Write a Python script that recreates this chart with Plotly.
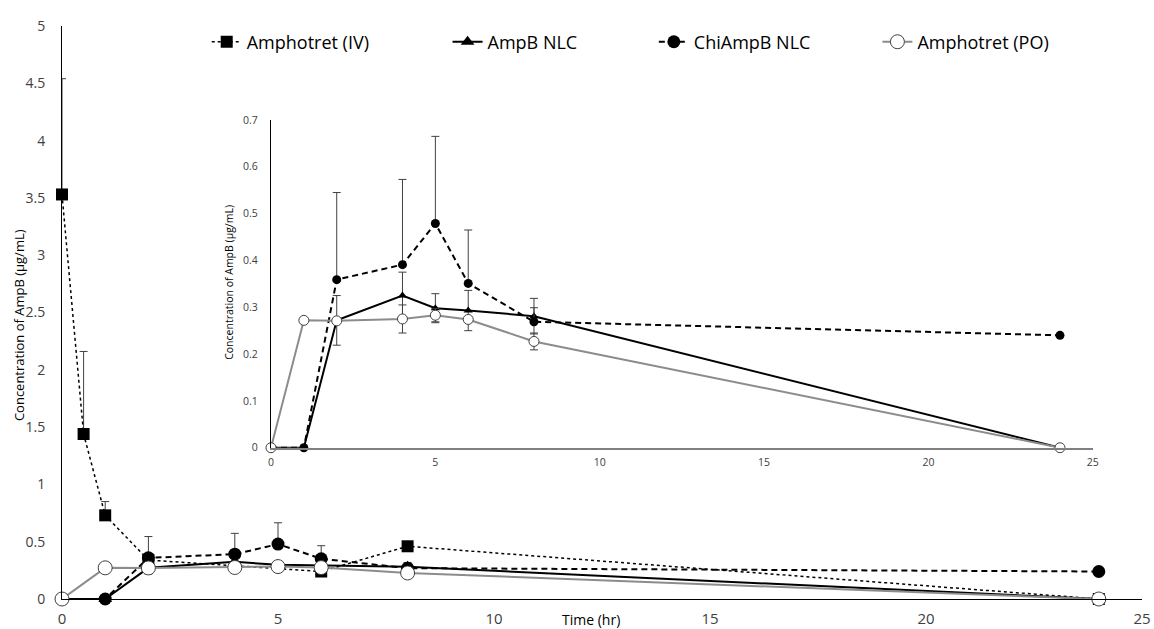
import plotly.graph_objects as go

# ---- data ----
t_iv = [0, 0.5, 1, 2, 6, 8, 24]
iv = [3.53, 1.44, 0.73, 0.34, 0.24, 0.46, 0]
iv_err = [1.01, 0.72, 0.12, 0, 0, 0, 0]

t = [0, 1, 2, 4, 5, 6, 8, 24]
nlc = [0, 0, 0.272, 0.325, 0.298, 0.293, 0.281, 0]
nlc_err = [0, 0, 0.053, 0.050, 0.031, 0.043, 0.038, 0]

chi = [0, 0, 0.359, 0.391, 0.479, 0.351, 0.269, 0.240]
chi_err = [0, 0, 0.186, 0.182, 0.186, 0.114, 0.030, 0]

po = [0, 0.272, 0.271, 0.275, 0.283, 0.274, 0.227, 0]
po_err = [0, 0, 0, 0.030, 0.014, 0, 0.018, 0]

x_ticks = [0, 5, 10, 15, 20, 25]
y_ticks_main = [0, 0.5, 1, 1.5, 2, 2.5, 3, 3.5, 4, 4.5, 5]
y_ticks_inset = [0, 0.1, 0.2, 0.3, 0.4, 0.5, 0.6, 0.7]

names = ["Amphotret (IV)", "AmpB NLC", "ChiAmpB NLC", "Amphotret (PO)"]
legend_ids = ["legend", "legend2", "legend3", "legend4"]

FONT = "Open Sans"
TICKC = "#404040"

fig = go.Figure()


def add_series(xa, ya, big):
    ms = 12 if big else 8
    common = dict(xaxis=xa, yaxis=ya, showlegend=big, cliponaxis=False)
    if big:
        fig.add_trace(go.Scatter(
            x=t_iv, y=iv, name=names[0], mode="lines+markers", legend=legend_ids[0],
            line=dict(color="black", width=1.5, dash="dot"),
            marker=dict(symbol="square", size=ms, color="black"),
            error_y=dict(type="data", array=iv_err, symmetric=False, arrayminus=[0]*len(iv_err),
                         color="#404040", thickness=1, width=4), **common))
    fig.add_trace(go.Scatter(
        x=t, y=nlc, name=names[1], mode="lines+markers", legend=legend_ids[1],
        line=dict(color="black", width=2),
        marker=dict(symbol="triangle-up", size=ms, color="black"),
        error_y=dict(type="data", array=nlc_err, symmetric=True,
                     color="#404040", thickness=1, width=4), **common))
    fig.add_trace(go.Scatter(
        x=t, y=chi, name=names[2], mode="lines+markers", legend=legend_ids[2],
        line=dict(color="black", width=2, dash="6px,4px"),
        marker=dict(symbol="circle", size=ms + 1, color="black"),
        error_y=dict(type="data", array=chi_err, symmetric=False, arrayminus=[0]*len(chi_err),
                     color="#404040", thickness=1, width=4), **common))
    fig.add_trace(go.Scatter(
        x=t, y=po, name=names[3], mode="lines+markers", legend=legend_ids[3],
        line=dict(color="#8c8c8c", width=2),
        marker=dict(symbol="circle", size=ms + 2, color="white",
                    line=dict(color="#404040", width=1)),
        error_y=dict(type="data", array=po_err, symmetric=True,
                     color="#404040", thickness=1, width=4), **common))


add_series("x", "y", True)
add_series("x2", "y2", False)

legend_x = [0.134, 0.357, 0.548, 0.755]
legend_cfg = {}
for lid, lx in zip(legend_ids, legend_x):
    legend_cfg[lid] = dict(x=lx, y=0.972, xanchor="left", yanchor="middle",
                           font=dict(family=FONT, size=18, color="black"),
                           bgcolor="rgba(0,0,0,0)", orientation="h")

fig.update_layout(
    width=1154, height=629,
    margin=dict(l=62, r=12, t=26, b=30, autoexpand=False),
    paper_bgcolor="white", plot_bgcolor="rgba(0,0,0,0)",
    font=dict(family=FONT, size=15, color=TICKC),
    showlegend=True,
    **legend_cfg,
    xaxis=dict(range=[0, 25], tickvals=x_ticks, showgrid=False, zeroline=False,
               showline=True, linecolor="black", linewidth=1, ticks="",
               ticklabelstandoff=6, automargin=False, ticklabeloverflow="allow",
               tickfont=dict(size=15, color=TICKC), domain=[0, 1]),
    yaxis=dict(range=[0, 5], tickvals=y_ticks_main, ticktext=[str(v) for v in y_ticks_main],
               showgrid=False, zeroline=False, showline=True, linecolor="black", linewidth=1,
               ticks="", ticklabelstandoff=13, automargin=False,
               tickfont=dict(size=14, color=TICKC), domain=[0, 1]),
    xaxis2=dict(range=[0, 25], tickvals=x_ticks, showgrid=False, zeroline=False,
                showline=True, linecolor="#808080", linewidth=1.5, ticks="",
                ticklabelstandoff=4, automargin=False,
                tickfont=dict(size=10.5, color=TICKC), domain=[0.1935, 0.9545], anchor="y2"),
    yaxis2=dict(range=[0, 0.7], tickvals=y_ticks_inset, ticktext=[str(v) for v in y_ticks_inset],
                showgrid=False, zeroline=False, showline=True, linecolor="black", linewidth=1,
                ticks="", ticklabelstandoff=10, automargin=False,
                tickfont=dict(size=10.5, color=TICKC), domain=[0.264, 0.836], anchor="x2"),
)

fig.add_annotation(text="Concentration of AmpB (µg/mL)", xref="paper", yref="paper",
                   x=-0.05, y=0.478, textangle=-90, showarrow=False,
                   font=dict(family=FONT, size=13, color="black"))
fig.add_annotation(text="Time (hr)", xref="paper", yref="paper",
                   x=0.49, y=-0.036, showarrow=False, yanchor="middle",
                   font=dict(family=FONT, size=14, color="black"))
fig.add_annotation(text="Concentration of AmpB (µg/mL)", xref="paper", yref="paper",
                   x=0.146, y=0.553, textangle=-90, showarrow=False,
                   font=dict(family=FONT, size=10.5, color="black"))

fig.write_html("out.html")
